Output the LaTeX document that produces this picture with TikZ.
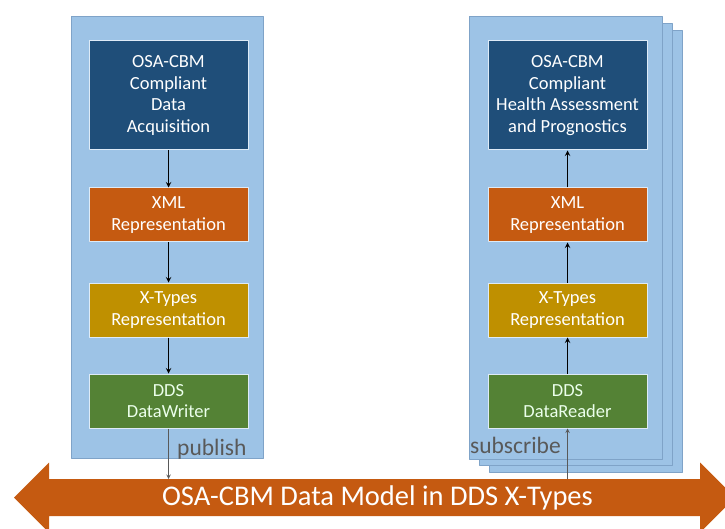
\documentclass[tikz,border=0pt]{standalone}
\usepackage{fontspec}
\setmainfont{Carlito}
\definecolor{panelblue}{HTML}{9DC3E6}
\definecolor{panelline}{HTML}{7FA3C8}
\definecolor{boxline}{HTML}{DEEBF7}
\definecolor{dkblue}{HTML}{1F4E79}
\definecolor{rust}{HTML}{C55A11}
\definecolor{gold}{HTML}{BF9000}
\definecolor{leaf}{HTML}{548235}
\definecolor{taggray}{HTML}{595959}
\begin{document}
\begin{tikzpicture}[x=1pt, y=-1pt, line join=round, >=stealth,
  panel/.style={draw=panelline, fill=panelblue, line width=0.8pt},
  box/.style={draw=boxline, line width=1pt, text=white, minimum width=159pt, align=center,
    inner sep=0pt, font=\fontsize{18.5}{21.7}\selectfont},
  flow/.style={->, line width=1.4pt},
  link/.style={->, draw=taggray, line width=1pt},
  tag/.style={text=taggray, anchor=base west, inner sep=0pt, font=\fontsize{23.5}{26}\selectfont}]
\useasboundingbox (0,0) rectangle (725,529);
% panels
\draw[panel] (71,16) rectangle (263,458);
\draw[panel] (489,30) rectangle (682,472);
\draw[panel] (479,23) rectangle (672,465);
\draw[panel] (469,16) rectangle (662,459);
% data model bus
\fill[rust] (14,497.5) -- (49,462.5) -- (49,479) -- (700,479) -- (700,462.5) -- (735,497.5)
  -- (700,532.5) -- (700,516) -- (49,516) -- (49,532.5) -- cycle;
\node[text=white, font=\fontsize{28.5}{30}\selectfont] (bus) at (377.5,497.5) {OSA-CBM Data Model in DDS X-Types};
% publisher side
\node[box, fill=dkblue, minimum height=109pt] (daq) at (168.5,95.5) {OSA-CBM\\Compliant\\Data\\Acquisition};
\node[box, fill=rust, minimum height=54pt] (xmlw) at (168.5,215) {XML\\Representation};
\node[box, fill=gold, minimum height=54pt] (xtw) at (168.5,310) {X-Types\\Representation};
\node[box, fill=leaf, minimum height=54pt, text=green!8] (ddsw) at (168.5,401) {DDS\\DataWriter};
\draw[flow] (daq) -- (xmlw);
\draw[flow] (xmlw) -- (xtw);
\draw[flow] (xtw) -- (ddsw);
% subscriber side
\node[box, fill=dkblue, minimum height=109pt] (hap) at (567.5,95.5) {OSA-CBM\\Compliant\\Health Assessment\\and Prognostics};
\node[box, fill=rust, minimum height=54pt] (xmlr) at (567.5,215) {XML\\Representation};
\node[box, fill=gold, minimum height=54pt] (xtr) at (567.5,310) {X-Types\\Representation};
\node[box, fill=leaf, minimum height=54pt, text=green!8] (ddsr) at (567.5,401) {DDS\\DataReader};
\draw[flow] (xmlr) -- (hap);
\draw[flow] (xtr) -- (xmlr);
\draw[flow] (ddsr) -- (xtr);
% publish / subscribe
\coordinate (pubend) at (168.5,479);
\coordinate (subbeg) at (567.5,479);
\draw[link] (ddsw) -- (pubend);
\draw[link] (subbeg) -- (ddsr);
\node[tag] (pub) at (177,455) {publish};
\node[tag] (sub) at (470,453) {subscribe};
\end{tikzpicture}
\end{document}
